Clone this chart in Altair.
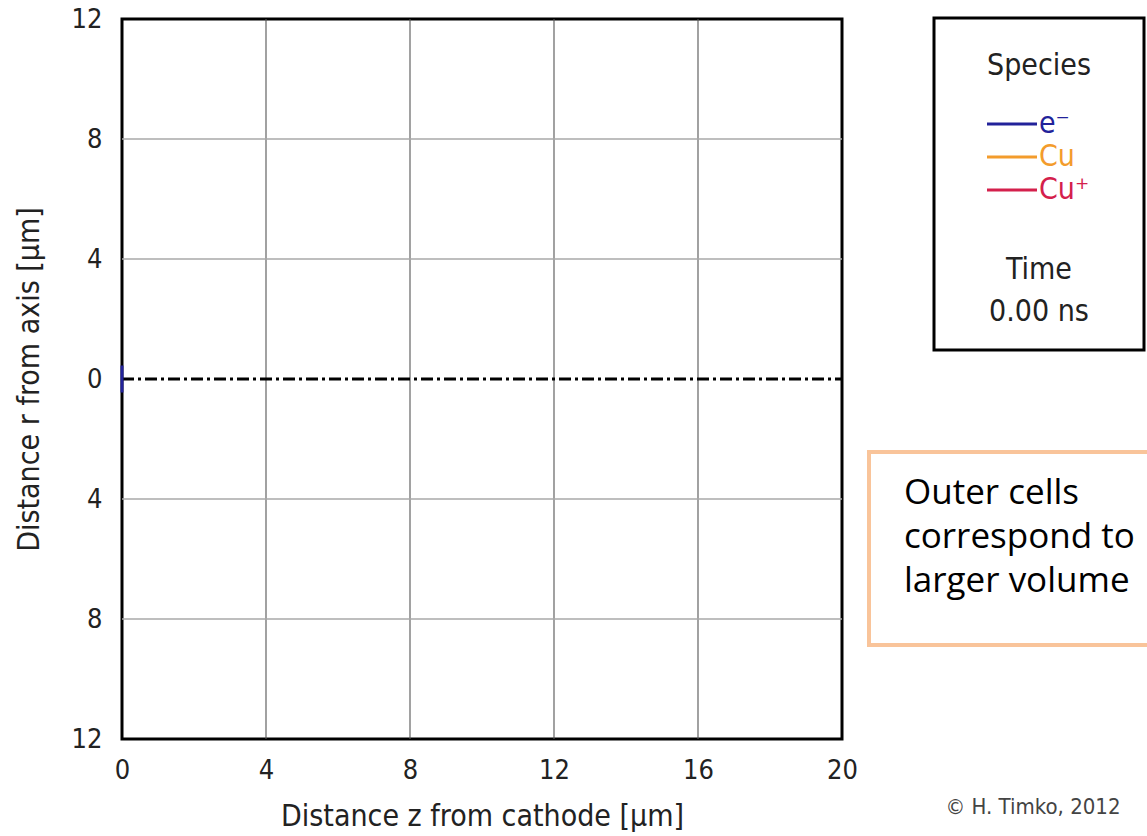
import altair as alt
import pandas as pd

# ---- data ----
z_ticks = [0, 4, 8, 12, 16, 20]
r_ticks = [-12, -8, -4, 0, 4, 8, 12]
z_grid = [4, 8, 12, 16]
r_grid = [-8, -4, 4, 8]
sym_axis_z = [0, 20]
sym_axis_r = [0, 0]
electron_z = [0, 0]
electron_r = [-0.45, 0.45]
species = ["e⁻", "Cu", "Cu⁺"]
species_colors = ["#22229a", "#f39c2c", "#d4204c"]
time_ns = [0.00]
note_lines = ["Outer cells", "correspond to", "larger volume"]
credit = ["© H. Timko, 2012"]

FONT = "DejaVu Sans Condensed, Liberation Sans Narrow, DejaVu Sans"
W, H = 720, 720
LEFT, TOP = 122, 19


def X(field="z"):
    return alt.X(f"{field}:Q",
                 scale=alt.Scale(domain=[0, 20], nice=False, zero=False),
                 axis=alt.Axis(values=z_ticks, title="Distance z from cathode [μm]",
                               grid=False, ticks=False, domain=False, labelFlush=False,
                               labelPadding=18, titlePadding=18))


def Y(field="r"):
    return alt.Y(f"{field}:Q",
                 scale=alt.Scale(domain=[-12, 12], nice=False, zero=False),
                 axis=alt.Axis(values=r_ticks, title="Distance r from axis [μm]",
                               labelExpr="abs(datum.value)", labelFlush=False,
                               grid=False, ticks=False, domain=False,
                               labelPadding=20, titlePadding=27))


vgrid = alt.Chart(pd.DataFrame({"z": z_grid})).mark_rule(
    color="#555", strokeWidth=1.1).encode(x=X())
hgrid = alt.Chart(pd.DataFrame({"r": r_grid})).mark_rule(
    color="#a8a8a8", strokeWidth=1.6).encode(y=Y())

sym = alt.Chart(pd.DataFrame({"z": sym_axis_z, "r": sym_axis_r})).mark_line(
    color="black", strokeWidth=3.2, strokeDash=[12, 4, 3, 4]).encode(x=X(), y=Y())

elec = alt.Chart(pd.DataFrame({"z": electron_z, "r": electron_r})).mark_line(
    color=species_colors[0], strokeWidth=3).encode(x=X(), y=Y())

layers = [vgrid, hgrid, sym, elec]


def px(ax):
    return ax - LEFT


def py(ay):
    return ay - TOP


one = pd.DataFrame({"k": [0]})
LEG_FS = 30

# legend box
layers.append(alt.Chart(one).mark_rect(fill="white", stroke="black", strokeWidth=3).encode(
    x=alt.value(px(934)), x2=alt.value(px(1144)), y=alt.value(py(18)), y2=alt.value(py(350))))
layers.append(alt.Chart(pd.DataFrame({"t": ["Species"]})).mark_text(
    font=FONT, fontSize=LEG_FS, color="#222", align="center", baseline="middle").encode(
    x=alt.value(px(1039)), y=alt.value(py(66)), text="t:N"))
for i, (s, c) in enumerate(zip(species, species_colors)):
    yy = py(124 + 33 * i)
    layers.append(alt.Chart(pd.DataFrame({"s": [s]})).mark_rule(color=c, strokeWidth=3).encode(
        x=alt.value(px(987)), x2=alt.value(px(1037)), y=alt.value(yy)))
    layers.append(alt.Chart(pd.DataFrame({"s": [s]})).mark_text(
        font=FONT, fontSize=LEG_FS, color=c, align="left", baseline="middle").encode(
        x=alt.value(px(1039)), y=alt.value(yy), text="s:N"))
layers.append(alt.Chart(pd.DataFrame({"t": ["Time"]})).mark_text(
    font=FONT, fontSize=LEG_FS, color="#222", align="center", baseline="middle").encode(
    x=alt.value(px(1039)), y=alt.value(py(270)), text="t:N"))
layers.append(alt.Chart(pd.DataFrame({"t": [f"{t:.2f} ns" for t in time_ns]})).mark_text(
    font=FONT, fontSize=LEG_FS, color="#222", align="center", baseline="middle").encode(
    x=alt.value(px(1039)), y=alt.value(py(312)), text="t:N"))

# annotation box
layers.append(alt.Chart(one).mark_rect(fill="white", stroke="#f9c49a", strokeWidth=4).encode(
    x=alt.value(px(869)), x2=alt.value(px(1170)), y=alt.value(py(452)), y2=alt.value(py(645))))
for i, line in enumerate(note_lines):
    layers.append(alt.Chart(pd.DataFrame({"t": [line]})).mark_text(
        font="Open Sans", fontSize=35, color="black", align="left", baseline="middle").encode(
        x=alt.value(px(904)), y=alt.value(py(493 + 44 * i)), text="t:N"))

# credit
layers.append(alt.Chart(pd.DataFrame({"t": credit})).mark_text(
    font=FONT, fontSize=22, color="#444", align="center", baseline="middle").encode(
    x=alt.value(px(1033)), y=alt.value(py(807)), text="t:N"))

chart = alt.layer(*layers).properties(
    width=W, height=H,
    autosize=alt.AutoSizeParams(type="none"),
    padding={"left": LEFT, "top": TOP, "right": 1147 - LEFT - W, "bottom": 836 - TOP - H},
).configure_view(stroke="black", strokeWidth=3).configure_axis(
    labelFont=FONT, labelFontSize=27, labelColor="#222",
    titleFont=FONT, titleFontSize=30, titleFontWeight="normal", titleColor="#222",
)

chart.save("out.html", embed_options={"renderer": "svg", "actions": False})
